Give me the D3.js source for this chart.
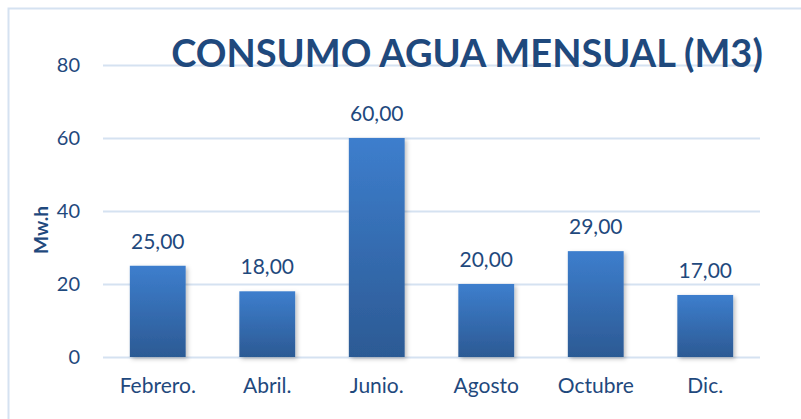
<!DOCTYPE html>
<html>
<head>
<meta charset="utf-8">
<script src="https://cdn.jsdelivr.net/npm/d3@7"></script>
<style>
  body { margin: 0; background: #fff; }
  svg { display: block; font-family: Lato, "Open Sans", sans-serif; }
</style>
</head>
<body>
<svg width="801" height="419"></svg>
<script>
var months = ["Febrero.", "Abril.", "Junio.", "Agosto", "Octubre", "Dic."];
var consumo = [25, 18, 60, 20, 29, 17];
var yTicks = [0, 20, 40, 60, 80];

var svg = d3.select("svg"),
    plotLeft = 103, plotRight = 760, plotTop = 65, plotBottom = 357,
    ink = "#1f497d";

var xScale = d3.scaleBand().domain(months).range([plotLeft, plotRight]).paddingInner(0.49).paddingOuter(0.245),
    yScale = d3.scaleLinear().domain([0, 80]).range([plotBottom, plotTop]);

// chart frame
svg.append("rect")
   .attr("x", 8.5).attr("y", 8.5)
   .attr("width", 830).attr("height", 440)
   .attr("fill", "none").attr("stroke", "#d5e2f1").attr("stroke-width", 2);

var defs = svg.append("defs");
var grad = defs.append("linearGradient").attr("id", "barGrad")
   .attr("x1", 0).attr("y1", 0).attr("x2", 0).attr("y2", 1);
grad.append("stop").attr("offset", "0%").attr("stop-color", "#3d7ecd");
grad.append("stop").attr("offset", "100%").attr("stop-color", "#2c5a94");

var shadow = defs.append("filter").attr("id", "shadow")
   .attr("x", "-20%").attr("y", "-10%").attr("width", "150%").attr("height", "130%");
shadow.append("feDropShadow").attr("dx", 2).attr("dy", 2).attr("stdDeviation", 2)
   .attr("flood-color", "#000").attr("flood-opacity", 0.25);

// gridlines + y axis labels
var yAxis = d3.axisLeft(yScale).tickValues(yTicks).tickSize(0).tickPadding(0);
svg.append("g")
   .attr("transform", "translate(" + plotLeft + ",0)")
   .call(yAxis)
   .call(function(g) {
       g.select(".domain").remove();
       g.selectAll(".tick line").attr("stroke", "#d5e2f1").attr("stroke-width", 2)
        .attr("x1", 0).attr("x2", plotRight - plotLeft);
       g.selectAll(".tick text")
        .attr("x", -23)
        .attr("fill", ink).attr("font-size", 20).attr("font-family", "Lato, sans-serif");
   });

// title
svg.append("text")
   .attr("x", 467).attr("y", 67)
   .attr("text-anchor", "middle")
   .attr("font-size", 38).attr("font-weight", "bold")
   .attr("fill", ink)
   .text("CONSUMO AGUA MENSUAL (M3)");

// bars
svg.selectAll(".bar")
   .data(consumo)
   .enter().append("rect")
   .attr("class", "bar")
   .attr("x", function(d, i) { return xScale(months[i]); })
   .attr("y", function(d) { return yScale(d); })
   .attr("width", xScale.bandwidth())
   .attr("height", function(d) { return plotBottom - yScale(d); })
   .attr("fill", "url(#barGrad)")
   .attr("filter", "url(#shadow)");

// value labels
svg.selectAll(".val")
   .data(consumo)
   .enter().append("text")
   .attr("class", "val")
   .attr("x", function(d, i) { return xScale(months[i]) + xScale.bandwidth() / 2; })
   .attr("y", function(d) { return yScale(d) - 17; })
   .attr("text-anchor", "middle")
   .attr("font-size", 21)
   .attr("fill", ink)
   .text(function(d) { return d3.format(".2f")(d).replace(".", ","); });

// x axis labels
var xAxis = d3.axisBottom(xScale).tickSize(0).tickPadding(21);
svg.append("g")
   .attr("transform", "translate(0," + plotBottom + ")")
   .call(xAxis)
   .call(function(g) {
       g.select(".domain").remove();
       g.selectAll(".tick text").attr("fill", ink).attr("font-size", 21).attr("font-family", "Lato, sans-serif");
   });

// y axis title
svg.append("text")
   .attr("transform", "translate(48,230) rotate(-90)")
   .attr("text-anchor", "middle")
   .attr("font-size", 19).attr("font-weight", "bold")
   .attr("fill", ink)
   .text("Mw.h");
</script>
</body>
</html>
